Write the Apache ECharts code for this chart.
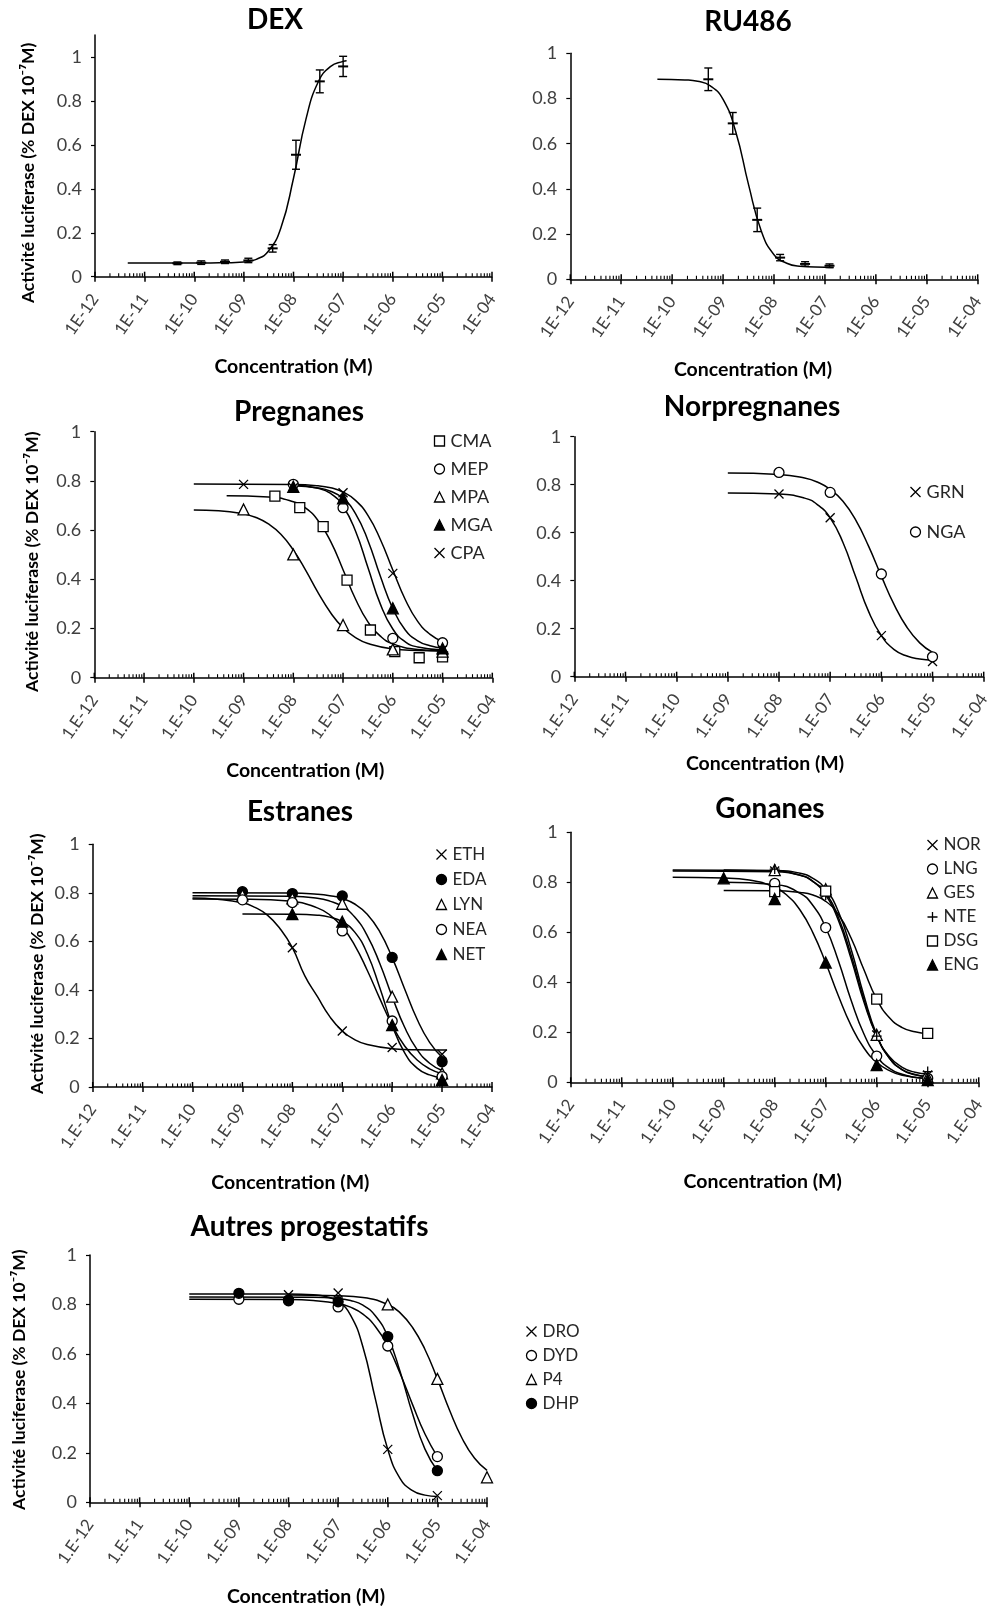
<!DOCTYPE html>
<html><head><meta charset="utf-8">
<script src="https://cdn.jsdelivr.net/npm/echarts@6/dist/echarts.min.js"></script>
<style>html,body{margin:0;padding:0;background:#fff}#c{width:987px;height:1607px}</style>
</head><body><div id="c"></div>
<script>
// ---------- tick labels ----------
const xTickLabelsA = ['1E-12','1E-11','1E-10','1E-09','1E-08','1E-07','1E-06','1E-05','1E-04'];
const xTickLabelsB = ['1.E-12','1.E-11','1.E-10','1.E-09','1.E-08','1.E-07','1.E-06','1.E-05','1.E-04'];
const yTicks = [0, 0.2, 0.4, 0.6, 0.8, 1];
const minorFactors = [2, 3, 4, 5, 6, 7, 8, 9];

// ---------- data (x = log10 concentration in M, y = fraction of DEX 1e-7 M activity) ----------
// DEX
const DEX_x = [-10.34, -9.86, -9.38, -8.91, -8.42, -7.95, -7.47, -7.0];
const DEX_y = [0.061, 0.064, 0.068, 0.074, 0.129, 0.555, 0.889, 0.957];
const DEX_err = [0.006, 0.008, 0.008, 0.01, 0.017, 0.066, 0.052, 0.046];
const DEX_fx = [-11.34, -10, -9.5, -9.25, -9.0, -8.75, -8.5, -8.25, -8.0, -7.75, -7.5, -7.25, -7.0, -6.93];
const DEX_fy = [0.062, 0.062, 0.063, 0.064, 0.067, 0.079, 0.118, 0.225, 0.448, 0.716, 0.887, 0.957, 0.98, 0.983];
// RU486
const RU_x = [-9.29, -8.81, -8.33, -7.88, -7.39, -6.91];
const RU_y = [0.885, 0.69, 0.263, 0.096, 0.068, 0.06];
const RU_err = [0.05, 0.048, 0.052, 0.014, 0.01, 0.008];
const RU_fx = [-10.29, -9.75, -9.5, -9.25, -9.0, -8.75, -8.5, -8.25, -8.0, -7.75, -7.5, -7.0, -6.83];
const RU_fy = [0.885, 0.882, 0.876, 0.856, 0.796, 0.652, 0.419, 0.214, 0.109, 0.071, 0.058, 0.053, 0.052];
// Pregnanes
const CMA_x = [-8.37, -7.87, -7.40, -6.92, -6.45, -5.96, -5.47, -5.0];
const CMA_y = [0.738, 0.691, 0.614, 0.397, 0.194, 0.106, 0.081, 0.085];
const CMA_fx = [-9.34, -8.5, -8.0, -7.75, -7.5, -7.25, -7.0, -6.75, -6.5, -6.25, -6.0, -5.5, -5.0];
const CMA_fy = [0.74, 0.735, 0.715, 0.689, 0.638, 0.554, 0.439, 0.32, 0.227, 0.169, 0.138, 0.115, 0.11];
const MEP_x = [-8, -7, -6, -5];
const MEP_y = [0.786, 0.691, 0.160, 0.142];
const MEP_fx = [-8.0, -7.5, -7.25, -7.0, -6.75, -6.5, -6.25, -6.0, -5.75, -5.5, -5.0];
const MEP_fy = [0.783, 0.77, 0.749, 0.697, 0.596, 0.448, 0.299, 0.198, 0.146, 0.125, 0.113];
const MPA_x = [-9, -8, -7, -6, -5];
const MPA_y = [0.684, 0.501, 0.214, 0.115, 0.106];
const MPA_fx = [-10, -9.5, -9.0, -8.75, -8.5, -8.25, -8.0, -7.75, -7.5, -7.25, -7.0, -6.75, -6.5, -6.0, -5.5, -5.0];
const MPA_fy = [0.682, 0.679, 0.666, 0.651, 0.625, 0.583, 0.519, 0.436, 0.345, 0.264, 0.203, 0.163, 0.139, 0.117, 0.111, 0.109];
const MGA_x = [-8, -7, -6, -5];
const MGA_y = [0.776, 0.729, 0.282, 0.119];
const MGA_fx = [-8.0, -7.5, -7.25, -7.0, -6.75, -6.5, -6.25, -6.0, -5.75, -5.5, -5.25, -5.0];
const MGA_fy = [0.78, 0.771, 0.758, 0.729, 0.667, 0.558, 0.412, 0.281, 0.194, 0.15, 0.13, 0.121];
const CPA_x = [-9, -8, -7, -6, -5];
const CPA_y = [0.786, 0.772, 0.752, 0.424, 0.112];
const CPA_fx = [-10, -8.0, -7.5, -7.25, -7.0, -6.75, -6.5, -6.25, -6.0, -5.75, -5.5, -5.25, -5.0];
const CPA_fy = [0.787, 0.785, 0.78, 0.772, 0.755, 0.721, 0.66, 0.562, 0.438, 0.318, 0.229, 0.176, 0.147];
// Norpregnanes
const GRN_x = [-8, -7, -6, -5];
const GRN_y = [0.761, 0.662, 0.171, 0.063];
const GRN_fx = [-9, -8, -7.5, -7.25, -7.0, -6.75, -6.5, -6.25, -6.0, -5.75, -5.5, -5.25, -5.0];
const GRN_fy = [0.765, 0.761, 0.744, 0.717, 0.662, 0.559, 0.415, 0.272, 0.171, 0.113, 0.086, 0.074, 0.069];
const NGA_x = [-8, -7, -6, -5];
const NGA_y = [0.851, 0.768, 0.428, 0.083];
const NGA_fx = [-9, -8, -7.5, -7.25, -7.0, -6.75, -6.5, -6.25, -6.0, -5.75, -5.5, -5.25, -5.0];
const NGA_fy = [0.849, 0.843, 0.828, 0.811, 0.781, 0.731, 0.652, 0.544, 0.419, 0.30, 0.206, 0.141, 0.101];
// Estranes
const ETH_x = [-8, -7, -6, -5];
const ETH_y = [0.574, 0.231, 0.163, 0.135];
const ETH_fx = [-10, -9.5, -9.0, -8.75, -8.5, -8.25, -8.0, -7.75, -7.5, -7.25, -7.0, -6.75, -6.5, -6.0, -5.5, -4.9];
const ETH_fy = [0.779, 0.774, 0.759, 0.74, 0.708, 0.653, 0.574, 0.458, 0.373, 0.29, 0.231, 0.195, 0.175, 0.158, 0.153, 0.152];
const EDA_x = [-9, -8, -7, -6, -5];
const EDA_y = [0.805, 0.797, 0.787, 0.534, 0.104];
const EDA_fx = [-10, -8, -7.5, -7.25, -7.0, -6.75, -6.5, -6.25, -6.0, -5.75, -5.5, -5.25, -5.0];
const EDA_fy = [0.80, 0.799, 0.794, 0.788, 0.777, 0.754, 0.712, 0.64, 0.533, 0.404, 0.279, 0.184, 0.123];
const LYN_x = [-9, -8, -7, -6, -5];
const LYN_y = [0.79, 0.777, 0.755, 0.372, 0.056];
const LYN_fx = [-10, -8, -7.5, -7.25, -7.0, -6.75, -6.5, -6.25, -6.0, -5.75, -5.5, -5.25, -5.0];
const LYN_fy = [0.788, 0.786, 0.778, 0.766, 0.744, 0.70, 0.624, 0.51, 0.372, 0.246, 0.154, 0.098, 0.068];
const NEA_x = [-9, -8, -7, -6, -5];
const NEA_y = [0.771, 0.76, 0.643, 0.272, 0.043];
const NEA_fx = [-10, -9, -8, -7.5, -7.25, -7.0, -6.75, -6.5, -6.25, -6.0, -5.75, -5.5, -5.25, -5.0];
const NEA_fy = [0.775, 0.774, 0.765, 0.738, 0.709, 0.66, 0.584, 0.481, 0.365, 0.255, 0.169, 0.111, 0.075, 0.055];
const NET_x = [-8, -7, -6, -5];
const NET_y = [0.712, 0.681, 0.255, 0.029];
const NET_fx = [-9, -8, -7.5, -7.25, -7.0, -6.75, -6.5, -6.25, -6.0, -5.75, -5.5, -5.25, -5.0];
const NET_fy = [0.713, 0.712, 0.708, 0.70, 0.681, 0.638, 0.55, 0.41, 0.255, 0.141, 0.078, 0.05, 0.038];
// Gonanes
const NOR_x = [-8, -7, -6, -5];
const NOR_y = [0.845, 0.756, 0.189, 0.029];
const NOR_fx = [-10, -8, -7.5, -7.25, -7.0, -6.75, -6.5, -6.25, -6.0, -5.75, -5.5, -5.25, -5.0];
const NOR_fy = [0.845, 0.842, 0.828, 0.804, 0.756, 0.659, 0.508, 0.331, 0.186, 0.097, 0.051, 0.031, 0.022];
const LNG_x = [-8, -7, -6, -5];
const LNG_y = [0.796, 0.619, 0.105, 0.016];
const LNG_fx = [-9, -8, -7.5, -7.25, -7.0, -6.75, -6.5, -6.25, -6.0, -5.75, -5.5, -5.25, -5.0];
const LNG_fy = [0.80, 0.791, 0.756, 0.707, 0.619, 0.485, 0.327, 0.193, 0.105, 0.056, 0.032, 0.02, 0.016];
const GES_x = [-8, -7, -6, -5];
const GES_y = [0.849, 0.772, 0.19, 0.02];
const GES_fx = [-9, -8, -7.5, -7.25, -7.0, -6.75, -6.5, -6.25, -6.0, -5.75, -5.5, -5.25, -5.0];
const GES_fy = [0.849, 0.847, 0.836, 0.816, 0.772, 0.682, 0.531, 0.346, 0.19, 0.096, 0.05, 0.03, 0.023];
const NTE_x = [-8, -7, -6, -5];
const NTE_y = [0.853, 0.749, 0.185, 0.043];
const NTE_fx = [-10, -8, -7.5, -7.25, -7.0, -6.75, -6.5, -6.25, -6.0, -5.75, -5.5, -5.25, -5.0];
const NTE_fy = [0.849, 0.845, 0.828, 0.803, 0.749, 0.647, 0.493, 0.321, 0.185, 0.102, 0.06, 0.04, 0.033];
const DSG_x = [-8, -7, -6, -5];
const DSG_y = [0.763, 0.765, 0.333, 0.196];
const DSG_fx = [-9, -8, -7.5, -7.25, -7.0, -6.75, -6.5, -6.25, -6.0, -5.75, -5.5, -5.25, -5.0];
const DSG_fy = [0.767, 0.766, 0.759, 0.749, 0.724, 0.671, 0.576, 0.45, 0.333, 0.258, 0.219, 0.202, 0.195];
const ENG_x = [-9, -8, -7, -6, -5];
const ENG_y = [0.816, 0.733, 0.479, 0.069, 0.009];
const ENG_fx = [-10, -9, -8.5, -8.0, -7.75, -7.5, -7.25, -7.0, -6.75, -6.5, -6.25, -6.0, -5.75, -5.5, -5.0];
const ENG_fy = [0.82, 0.817, 0.809, 0.78, 0.746, 0.688, 0.598, 0.478, 0.345, 0.226, 0.137, 0.08, 0.047, 0.028, 0.014];
// Autres progestatifs
const DRO_x = [-8, -7, -6, -5];
const DRO_y = [0.839, 0.846, 0.214, 0.027];
const DRO_fx = [-10, -8, -7.5, -7.25, -7.0, -6.75, -6.5, -6.25, -6.0, -5.75, -5.5, -5.25, -5.0];
const DRO_fy = [0.842, 0.842, 0.839, 0.832, 0.812, 0.757, 0.628, 0.418, 0.214, 0.096, 0.047, 0.029, 0.023];
const DYD_x = [-9, -8, -7, -6, -5];
const DYD_y = [0.821, 0.815, 0.79, 0.632, 0.185];
const DYD_fx = [-10, -8, -7.5, -7.0, -6.75, -6.5, -6.25, -6.0, -5.75, -5.5, -5.25, -5.0];
const DYD_fy = [0.821, 0.82, 0.816, 0.804, 0.789, 0.761, 0.711, 0.632, 0.521, 0.395, 0.276, 0.185];
const P4_x = [-6, -5, -4];
const P4_y = [0.80, 0.499, 0.101];
const P4_fx = [-8, -7, -6.5, -6.0, -5.75, -5.5, -5.25, -5.0, -4.75, -4.5, -4.25, -4.0];
const P4_fy = [0.838, 0.835, 0.828, 0.80, 0.766, 0.707, 0.618, 0.499, 0.37, 0.258, 0.178, 0.129];
const DHP_x = [-9, -8, -7, -6, -5];
const DHP_y = [0.845, 0.818, 0.811, 0.67, 0.128];
const DHP_fx = [-10, -7.5, -7.0, -6.75, -6.5, -6.25, -6.0, -5.75, -5.5, -5.25, -5.0];
const DHP_fy = [0.83, 0.829, 0.824, 0.816, 0.797, 0.754, 0.67, 0.528, 0.358, 0.215, 0.128];

// ---------- styling / layout ----------
const FONT = 'Lato, "Open Sans", sans-serif';
const CROSS = 'path://M0,0L10,10M10,0L0,10';
const PLUS = 'path://M5,0L5,10M0,5L10,5';
const sym = {
  square: {symbol: 'rect', size: 10, fill: '#fff'},
  circle: {symbol: 'circle', size: 10, fill: '#fff'},
  dot: {symbol: 'circle', size: 10, fill: '#000'},
  tri: {symbol: 'triangle', size: 11, fill: '#fff'},
  ftri: {symbol: 'triangle', size: 11, fill: '#000'},
  cross: {symbol: CROSS, size: 9, fill: 'none'},
  plus: {symbol: PLUS, size: 10, fill: 'none'}
};
function zip(a, b) { return a.map((v, i) => [v, b[i]]); }
function zip3(a, b, c) { return a.map((v, i) => [v, b[i], c[i]]); }

const panels = [
  {title: 'DEX', tx: 275, ty: 20, grid: {left: 95, top: 35, width: 397, height: 241.7}, ymax: 1.1, labels: xTickLabelsA,
   xGap: 80, xShift: 0, yName: true, yGap: 58, yShift: 17,
   err: {x: DEX_x, y: DEX_y, e: DEX_err}, fits: [[DEX_fx, DEX_fy]], series: []},
  {title: 'RU486', tx: 748, ty: 22, grid: {left: 570.3, top: 53.3, width: 407.4, height: 226}, ymax: 1, labels: xTickLabelsA,
   xGap: 80, xShift: -21, yName: false,
   err: {x: RU_x, y: RU_y, e: RU_err}, fits: [[RU_fx, RU_fy]], series: []},
  {title: 'Pregnanes', tx: 299, ty: 412, grid: {left: 94.3, top: 431.7, width: 398, height: 246}, ymax: 1, labels: xTickLabelsB,
   xGap: 83, xShift: 12, yName: true, yGap: 53, yShift: 7,
   legend: {left: 432, top: 432, gap: 10, fs: 18},
   fits: [[CMA_fx, CMA_fy], [MEP_fx, MEP_fy], [MPA_fx, MPA_fy], [MGA_fx, MGA_fy], [CPA_fx, CPA_fy]],
   series: [['CMA', CMA_x, CMA_y, 'square'], ['MEP', MEP_x, MEP_y, 'circle'], ['MPA', MPA_x, MPA_y, 'tri'],
            ['MGA', MGA_x, MGA_y, 'ftri'], ['CPA', CPA_x, CPA_y, 'cross']]},
  {title: 'Norpregnanes', tx: 752, ty: 407, grid: {left: 574.3, top: 436.7, width: 409.4, height: 240}, ymax: 1, labels: xTickLabelsB,
   xGap: 77, xShift: -14, yName: false,
   legend: {left: 908, top: 483, gap: 22, fs: 18},
   fits: [[GRN_fx, GRN_fy], [NGA_fx, NGA_fy]],
   series: [['GRN', GRN_x, GRN_y, 'cross'], ['NGA', NGA_x, NGA_y, 'circle']]},
  {title: 'Estranes', tx: 300, ty: 812, grid: {left: 92.7, top: 844.3, width: 399.3, height: 242.7}, ymax: 1, labels: xTickLabelsB,
   xGap: 86, xShift: -2, yName: true, yGap: 46, yShift: -2,
   legend: {left: 434, top: 846, gap: 8, fs: 17},
   fits: [[ETH_fx, ETH_fy], [EDA_fx, EDA_fy], [LYN_fx, LYN_fy], [NEA_fx, NEA_fy], [NET_fx, NET_fy]],
   series: [['ETH', ETH_x, ETH_y, 'cross'], ['EDA', EDA_x, EDA_y, 'dot'], ['LYN', LYN_x, LYN_y, 'tri'],
            ['NEA', NEA_x, NEA_y, 'circle'], ['NET', NET_x, NET_y, 'ftri']]},
  {title: 'Gonanes', tx: 770, ty: 809, grid: {left: 570.7, top: 832.3, width: 408, height: 250}, ymax: 1, labels: xTickLabelsB,
   xGap: 89, xShift: -12, yName: false,
   legend: {left: 925, top: 836.5, gap: 7, fs: 17},
   fits: [[NOR_fx, NOR_fy], [LNG_fx, LNG_fy], [GES_fx, GES_fy], [NTE_fx, NTE_fy], [DSG_fx, DSG_fy], [ENG_fx, ENG_fy]],
   series: [['NOR', NOR_x, NOR_y, 'cross'], ['LNG', LNG_x, LNG_y, 'circle'], ['GES', GES_x, GES_y, 'tri'],
            ['NTE', NTE_x, NTE_y, 'plus'], ['DSG', DSG_x, DSG_y, 'square'], ['ENG', ENG_x, ENG_y, 'ftri']]},
  {title: 'Autres progestatifs', tx: 309.5, ty: 1226.7, grid: {left: 90, top: 1255, width: 397, height: 247.3}, ymax: 1, labels: xTickLabelsB,
   xGap: 84, xShift: 17.5, yName: true, yGap: 62, yShift: 1,
   legend: {left: 524, top: 1323, gap: 7, fs: 17},
   fits: [[DRO_fx, DRO_fy], [DYD_fx, DYD_fy], [P4_fx, P4_fy], [DHP_fx, DHP_fy]],
   series: [['DRO', DRO_x, DRO_y, 'cross'], ['DYD', DYD_x, DYD_y, 'circle'], ['P4', P4_x, P4_y, 'tri'], ['DHP', DHP_x, DHP_y, 'dot']]}
];

const grids = [], xAxes = [], yAxes = [], series = [], legends = [], graphics = [];
const YNAME = 'Activité luciferase (% DEX 10⁻⁷M)';

panels.forEach((p, gi) => {
  grids.push(Object.assign({containLabel: false, outerBoundsMode: 'none'}, p.grid));
  const labels = p.labels;
  xAxes.push({
    type: 'value', gridIndex: gi, min: -12, max: -4, interval: 1,
    axisLine: {show: true, onZero: false, lineStyle: {color: '#000', width: 1.5}},
    axisTick: {show: true, length: 5, lineStyle: {color: '#000', width: 1.5}},
    splitLine: {show: false},
    axisLabel: {rotate: 55, margin: 19, fontSize: 17, fontFamily: FONT, color: '#404040',
      formatter: v => labels[Math.round(v + 12)]},
    name: 'Concentration (M)', nameLocation: 'middle', nameGap: p.xGap,
    nameTextStyle: {fontSize: 19.5, fontWeight: 'bold', fontFamily: FONT, color: '#000',
      padding: p.xShift >= 0 ? [0, 0, 0, 2 * p.xShift] : [0, -2 * p.xShift, 0, 0]}
  });
  const ya = {
    type: 'value', gridIndex: gi, min: 0, max: p.ymax, interval: 0.2,
    axisLine: {show: true, lineStyle: {color: '#000', width: 1.5}},
    axisTick: {show: true, length: 4, lineStyle: {color: '#000', width: 1.2}, customValues: yTicks},
    splitLine: {show: false},
    axisLabel: {margin: 13, fontSize: 18, fontFamily: FONT, color: '#404040', customValues: yTicks,
      formatter: v => String(Math.round(v * 10) / 10)}
  };
  if (p.yName) {
    ya.name = YNAME; ya.nameLocation = 'middle'; ya.nameGap = p.yGap;
    ya.nameTextStyle = {fontSize: 17.5, fontWeight: 'bold', fontFamily: FONT, color: '#000',
      padding: p.yShift >= 0 ? [0, 2 * p.yShift, 0, 0] : [0, 0, 0, -2 * p.yShift]};
  }
  yAxes.push(ya);

  graphics.push({type: 'text', x: p.tx, y: p.ty, style: {text: p.title, align: 'center', verticalAlign: 'middle',
    font: 'bold 28px ' + FONT, fill: '#000'}});

  // minor/major inner ticks (log decades)
  const tickData = [];
  for (let d = -12; d <= -4; d++) {
    tickData.push([d, 1]);
    if (d < -4) minorFactors.forEach(k => tickData.push([d + Math.log10(k), 0]));
  }
  series.push({
    type: 'custom', xAxisIndex: gi, yAxisIndex: gi, silent: true, z: 3, data: tickData,
    encode: {x: 0},
    renderItem: (params, api) => {
      const pt = api.coord([api.value(0), 0]);
      const major = api.value(1) === 1;
      const len = major ? 5 : 3.5;
      return {type: 'line', shape: {x1: pt[0], y1: pt[1], x2: pt[0], y2: pt[1] - len},
        style: {stroke: '#000', lineWidth: major ? 1.5 : 1.1}};
    }
  });

  p.fits.forEach(f => {
    series.push({type: 'line', xAxisIndex: gi, yAxisIndex: gi, data: zip(f[0], f[1]), symbol: 'none',
      smooth: 0.5, silent: true, z: 2,
      lineStyle: {color: '#000', width: 1.5}});
  });

  if (p.err) {
    series.push({
      type: 'custom', xAxisIndex: gi, yAxisIndex: gi, silent: true, z: 4,
      data: zip3(p.err.x, p.err.y, p.err.e), encode: {x: 0, y: 1},
      renderItem: (params, api) => {
        const x = api.value(0), y = api.value(1), e = api.value(2);
        const c = api.coord([x, y]), t = api.coord([x, y + e]), b = api.coord([x, y - e]);
        const st = {stroke: '#000', lineWidth: 1.4};
        return {type: 'group', children: [
          {type: 'line', shape: {x1: c[0], y1: t[1], x2: c[0], y2: b[1]}, style: st},
          {type: 'line', shape: {x1: c[0] - 4, y1: t[1], x2: c[0] + 4, y2: t[1]}, style: st},
          {type: 'line', shape: {x1: c[0] - 4, y1: b[1], x2: c[0] + 4, y2: b[1]}, style: st},
          {type: 'line', shape: {x1: c[0] - 5, y1: c[1], x2: c[0] + 5, y2: c[1]}, style: {stroke: '#000', lineWidth: 2}}
        ]};
      }
    });
  }

  const names = [];
  p.series.forEach(s => {
    const m = sym[s[3]];
    names.push(s[0]);
    series.push({type: 'scatter', name: s[0], xAxisIndex: gi, yAxisIndex: gi, data: zip(s[1], s[2]),
      symbol: m.symbol, symbolSize: m.size, z: 5, silent: true,
      itemStyle: {color: m.fill, borderColor: '#000', borderWidth: 1.3, opacity: 1}});
  });
  if (p.legend) {
    legends.push({data: names, orient: 'vertical', left: p.legend.left, top: p.legend.top, padding: 0,
      itemWidth: 10, itemHeight: 10, itemGap: p.legend.gap, selectedMode: false,
      itemStyle: {borderWidth: 1.3},
      textStyle: {fontSize: p.legend.fs, fontFamily: FONT, color: '#262626', padding: [0, 0, 0, 1]}});
  }
});

const chart = echarts.init(document.getElementById('c'), null, {renderer: 'canvas'});
chart.setOption({
  animation: false,
  backgroundColor: '#fff',
  grid: grids, xAxis: xAxes, yAxis: yAxes, legend: legends, series: series, graphic: graphics
});
</script></body></html>
